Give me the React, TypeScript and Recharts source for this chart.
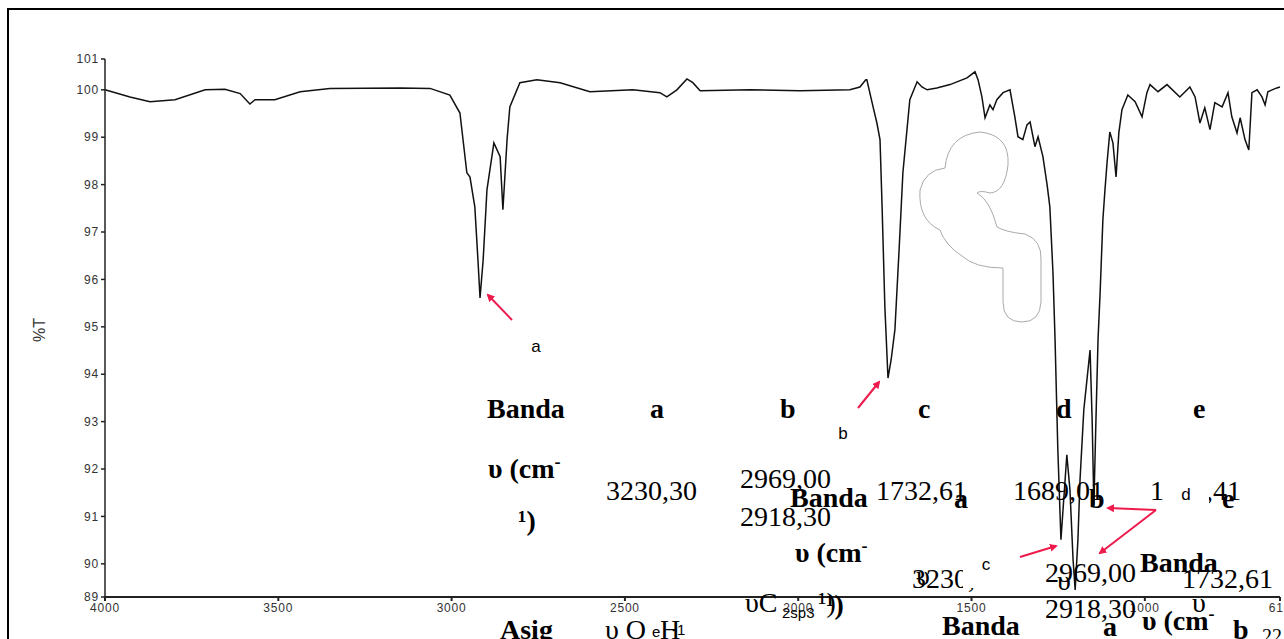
import { LineChart, Line, XAxis, YAxis } from "recharts";

// IR spectrum, wavenumber (cm-1) vs %T
const WAVENUMBERS = [
  4000, 3928, 3870, 3798, 3711, 3654, 3610, 3582, 3567, 3510, 3437, 3351, 3149, 3062,
  3005, 2976, 2956, 2947, 2933, 2924, 2918, 2909, 2898, 2878, 2860, 2852, 2840, 2832,
  2803, 2754, 2687, 2601, 2477, 2399, 2379, 2350, 2321, 2304, 2283, 2139, 1995, 1851,
  1822, 1805, 1802, 1784, 1773, 1764, 1758, 1750, 1741, 1732, 1721, 1709, 1698, 1678,
  1657, 1643, 1628, 1600, 1562, 1513, 1490, 1481, 1470, 1461, 1447, 1438, 1427, 1409,
  1389, 1375, 1366, 1352, 1340, 1331, 1317, 1308, 1294, 1282, 1274, 1265, 1259, 1251,
  1242, 1236, 1225, 1216, 1207, 1201, 1193, 1187, 1176, 1167, 1158, 1152, 1147, 1141,
  1135, 1129, 1121, 1115, 1109, 1101, 1092, 1083, 1075, 1066, 1049, 1028, 1008, 994,
  985, 962, 936, 899, 870, 855, 841, 827, 812, 798, 777, 760, 749, 734, 725, 711, 700,
  691, 676, 662, 653, 645, 619, 610,
];
const TRANSMITTANCE = [
  100.0, 99.85, 99.75, 99.79, 100.0, 100.01, 99.92, 99.7, 99.79, 99.79, 99.96, 100.03, 100.04, 100.03,
  99.89, 99.51, 98.25, 98.16, 97.53, 96.41, 95.61, 96.41, 97.89, 98.88, 98.59, 97.47, 98.95, 99.64,
  100.15, 100.21, 100.15, 99.96, 100.0, 99.94, 99.85, 100.0, 100.23, 100.15, 99.98, 100.0, 99.98, 100.0,
  100.06, 100.21, 100.21, 99.64, 99.3, 98.95, 97.53, 95.42, 93.92, 94.3, 94.94, 96.62, 98.25, 99.79,
  100.17, 100.06, 100.0, 100.04, 100.11, 100.25, 100.38, 100.21, 99.85, 99.41, 99.68, 99.58, 99.79, 99.94,
  100.0, 99.43, 99.01, 98.95, 99.26, 99.32, 98.8, 99.01, 98.59, 98.0, 97.53, 96.14, 94.73, 92.41,
  90.51, 91.14, 92.3, 91.56, 90.08, 89.45, 90.51, 91.77, 93.25, 93.88, 94.51, 93.04, 91.24, 93.04,
  94.73, 95.72, 97.26, 97.89, 98.46, 99.11, 98.88, 98.16, 99.09, 99.58, 99.89, 99.75, 99.43, 99.94,
  100.11, 99.96, 100.11, 99.85, 100.06, 99.85, 99.3, 99.62, 99.16, 99.73, 99.64, 99.94, 99.43, 99.09, 99.41, 98.95, 98.73,
  99.94, 100.0, 99.85, 99.68, 99.96, 100.04, 100.06,
];

const X_TICKS = [4000, 3500, 3000, 2500, 2000, 1500, 1000, 610];
const Y_TICKS = [89.3, 90, 91, 92, 93, 94, 95, 96, 97, 98, 99, 100, 100.65];

const data = WAVENUMBERS.map((wn, i) => ({ wn, t: TRANSMITTANCE[i] }));

const serif = '"Liberation Serif", "Times New Roman", serif';
const sans = '"Liberation Sans", Arial, sans-serif';

type T = { s: string; x: number; y: number; b?: boolean; sup?: string; size?: number; font?: string };

// pasted table fragments sitting over the plot (x = left, y = top of 28px line box)
const TEXTS: T[] = [
  { s: "Banda", x: 487, y: 395, b: true },
  { s: "a", x: 650, y: 395, b: true },
  { s: "b", x: 780, y: 395, b: true },
  { s: "c", x: 918, y: 395, b: true },
  { s: "d", x: 1056, y: 395, b: true },
  { s: "e", x: 1193, y: 395, b: true },
  { s: "υ (cm", sup: "-", x: 488, y: 455, b: true },
  { s: "¹)", x: 518, y: 507, b: true },
  { s: "3230,30", x: 606, y: 477 },
  { s: "2969,00", x: 740, y: 465 },
  { s: "2918,30", x: 740, y: 503 },
  { s: "1732,61", x: 876, y: 477 },
  { s: "1689,01", x: 1013, y: 477 },
  { s: "1635,41", x: 1150, y: 477 },
  { s: "Banda", x: 790, y: 484, b: true },
  { s: "a", x: 954, y: 485, b: true },
  { s: "b", x: 1089, y: 485, b: true },
  { s: "e", x: 1222, y: 485, b: true },
  { s: "υ (cm", sup: "-", x: 795, y: 539, b: true },
  { s: "¹)", x: 826, y: 591, b: true },
  { s: "3230,30", x: 912, y: 565 },
  { s: "2969,00", x: 1045, y: 559 },
  { s: "2918,30", x: 1045, y: 595 },
  { s: "1732,61", x: 1182, y: 565 },
  { s: "Banda", x: 1140, y: 549, b: true },
  { s: "υ", x: 916, y: 562 },
  { s: "υ", x: 1057, y: 567 },
  { s: "υ", x: 1192, y: 589 },
  { s: "υC", x: 745, y: 589 },
  { s: "2sp3", x: 782, y: 605, size: 15, font: sans },
  { s: "¹)", x: 818, y: 589 },
  { s: "Banda", x: 942, y: 612, b: true },
  { s: "a", x: 1103, y: 613, b: true },
  { s: "υ (cm", sup: "-", x: 1142, y: 607, b: true },
  { s: "b", x: 1233, y: 616, b: true },
  { s: "22", x: 1262, y: 626, size: 20 },
  { s: "Asig", x: 500, y: 616, b: true },
  { s: "υ O", x: 605, y: 616 },
  { s: "H", x: 660, y: 616 },
  { s: "e", x: 652, y: 624, size: 15, font: sans },
  { s: "-1", x: 672, y: 622, size: 15, font: sans },
];

const LABELS = [
  { s: "a", x: 529, y: 337, box: false },
  { s: "b", x: 836, y: 424, box: false },
  { s: "c", x: 963, y: 550, box: true },
  { s: "d", x: 1163, y: 480, box: true },
];

const RED = "#ee1a4c";
const tickStyle = { fontSize: 12, fill: "#333", fontFamily: sans, letterSpacing: 0.8 };

export default function App() {
  return (
    <div style={{ position: "relative", width: 1284, height: 639, overflow: "hidden", background: "#fff" }}>
      <style>{"body{margin:0;overflow:hidden}"}</style>
      <div
        style={{
          position: "absolute",
          left: 7,
          top: 8,
          width: 1400,
          height: 800,
          border: "2px solid #000",
        }}
      />
      <div style={{ position: "absolute", left: 0, top: 0 }}>
        <LineChart width={1284} height={639} data={data} margin={{ top: 59, right: 4, bottom: 12, left: 65 }}>
          <XAxis
            dataKey="wn"
            type="number"
            reversed
            domain={[610, 4000]}
            ticks={X_TICKS}
            interval={0}
            height={30}
            tickSize={4}
            stroke="#222"
            strokeWidth={2}
            tick={tickStyle}
          />
          <YAxis
            type="number"
            domain={[89.3, 100.65]}
            ticks={Y_TICKS}
            interval={0}
            width={40}
            tickSize={4}
            stroke="#222"
            strokeWidth={1.5}
            tickFormatter={(v: number) => String(Math.round(v))}
            tick={tickStyle}
          />
          <Line
            dataKey="t"
            type="linear"
            stroke="#111"
            strokeWidth={1.5}
            dot={false}
            isAnimationActive={false}
          />
        </LineChart>
      </div>

      <div
        style={{
          position: "absolute",
          left: 28,
          top: 321,
          transform: "rotate(-90deg)",
          fontFamily: sans,
          fontSize: 16,
          color: "#333",
        }}
      >
        %T
      </div>

      <svg width={1284} height={639} style={{ position: "absolute", left: 0, top: 0 }}>
        <defs>
          <marker id="ah" markerWidth="8" markerHeight="8" refX="6" refY="4" orient="auto" markerUnits="userSpaceOnUse">
            <path d="M0,0 L8,4 L0,8 Z" fill={RED} />
          </marker>
        </defs>
        <path
          d="M977 193 Q990 200 997 227 Q1005 232 1025 234 Q1042 240 1041 260 L1041 302 Q1040 322 1022 322 Q1003 322 1003 302 L1003 268 Q975 268 962 256 Q945 245 940 230 Q918 220 920 190 Q925 170 945 168 Q948 135 980 132 Q1010 135 1008 165 Q1005 192 990 193 Q980 190 977 193 Z"
          fill="none"
          stroke="#aaa"
          strokeWidth={1}
        />
        <line x1={512} y1={320} x2={488} y2={295} stroke={RED} strokeWidth={2} markerEnd="url(#ah)" />
        <line x1={858} y1={408} x2={879} y2={382} stroke={RED} strokeWidth={2} markerEnd="url(#ah)" />
        <line x1={1020} y1={557} x2={1056} y2={546} stroke={RED} strokeWidth={2} markerEnd="url(#ah)" />
        <line x1={1156} y1={510} x2={1108} y2={508} stroke={RED} strokeWidth={2} markerEnd="url(#ah)" />
        <line x1={1156} y1={510} x2={1100} y2={553} stroke={RED} strokeWidth={2} markerEnd="url(#ah)" />
      </svg>

      {TEXTS.map((t, i) => (
        <div
          key={i}
          style={{
            position: "absolute",
            left: t.x,
            top: t.y,
            fontFamily: t.font ?? serif,
            fontSize: t.size ?? 28,
            lineHeight: `${t.size ?? 28}px`,
            fontWeight: t.b ? "bold" : "normal",
            color: "#000",
            whiteSpace: "nowrap",
          }}
        >
          {t.s}
          {t.sup && <span style={{ fontSize: 18, position: "relative", top: -10 }}>{t.sup}</span>}
        </div>
      ))}

      {LABELS.map((l) => (
        <div
          key={l.s}
          style={{
            position: "absolute",
            left: l.x,
            top: l.y,
            width: l.box ? 46 : 14,
            height: l.box ? 38 : 20,
            background: l.box ? "#fff" : "transparent",
            fontFamily: sans,
            fontSize: 17,
            lineHeight: l.box ? "30px" : "20px",
            textAlign: "center",
            color: "#000",
          }}
        >
          {l.s}
        </div>
      ))}
    </div>
  );
}
